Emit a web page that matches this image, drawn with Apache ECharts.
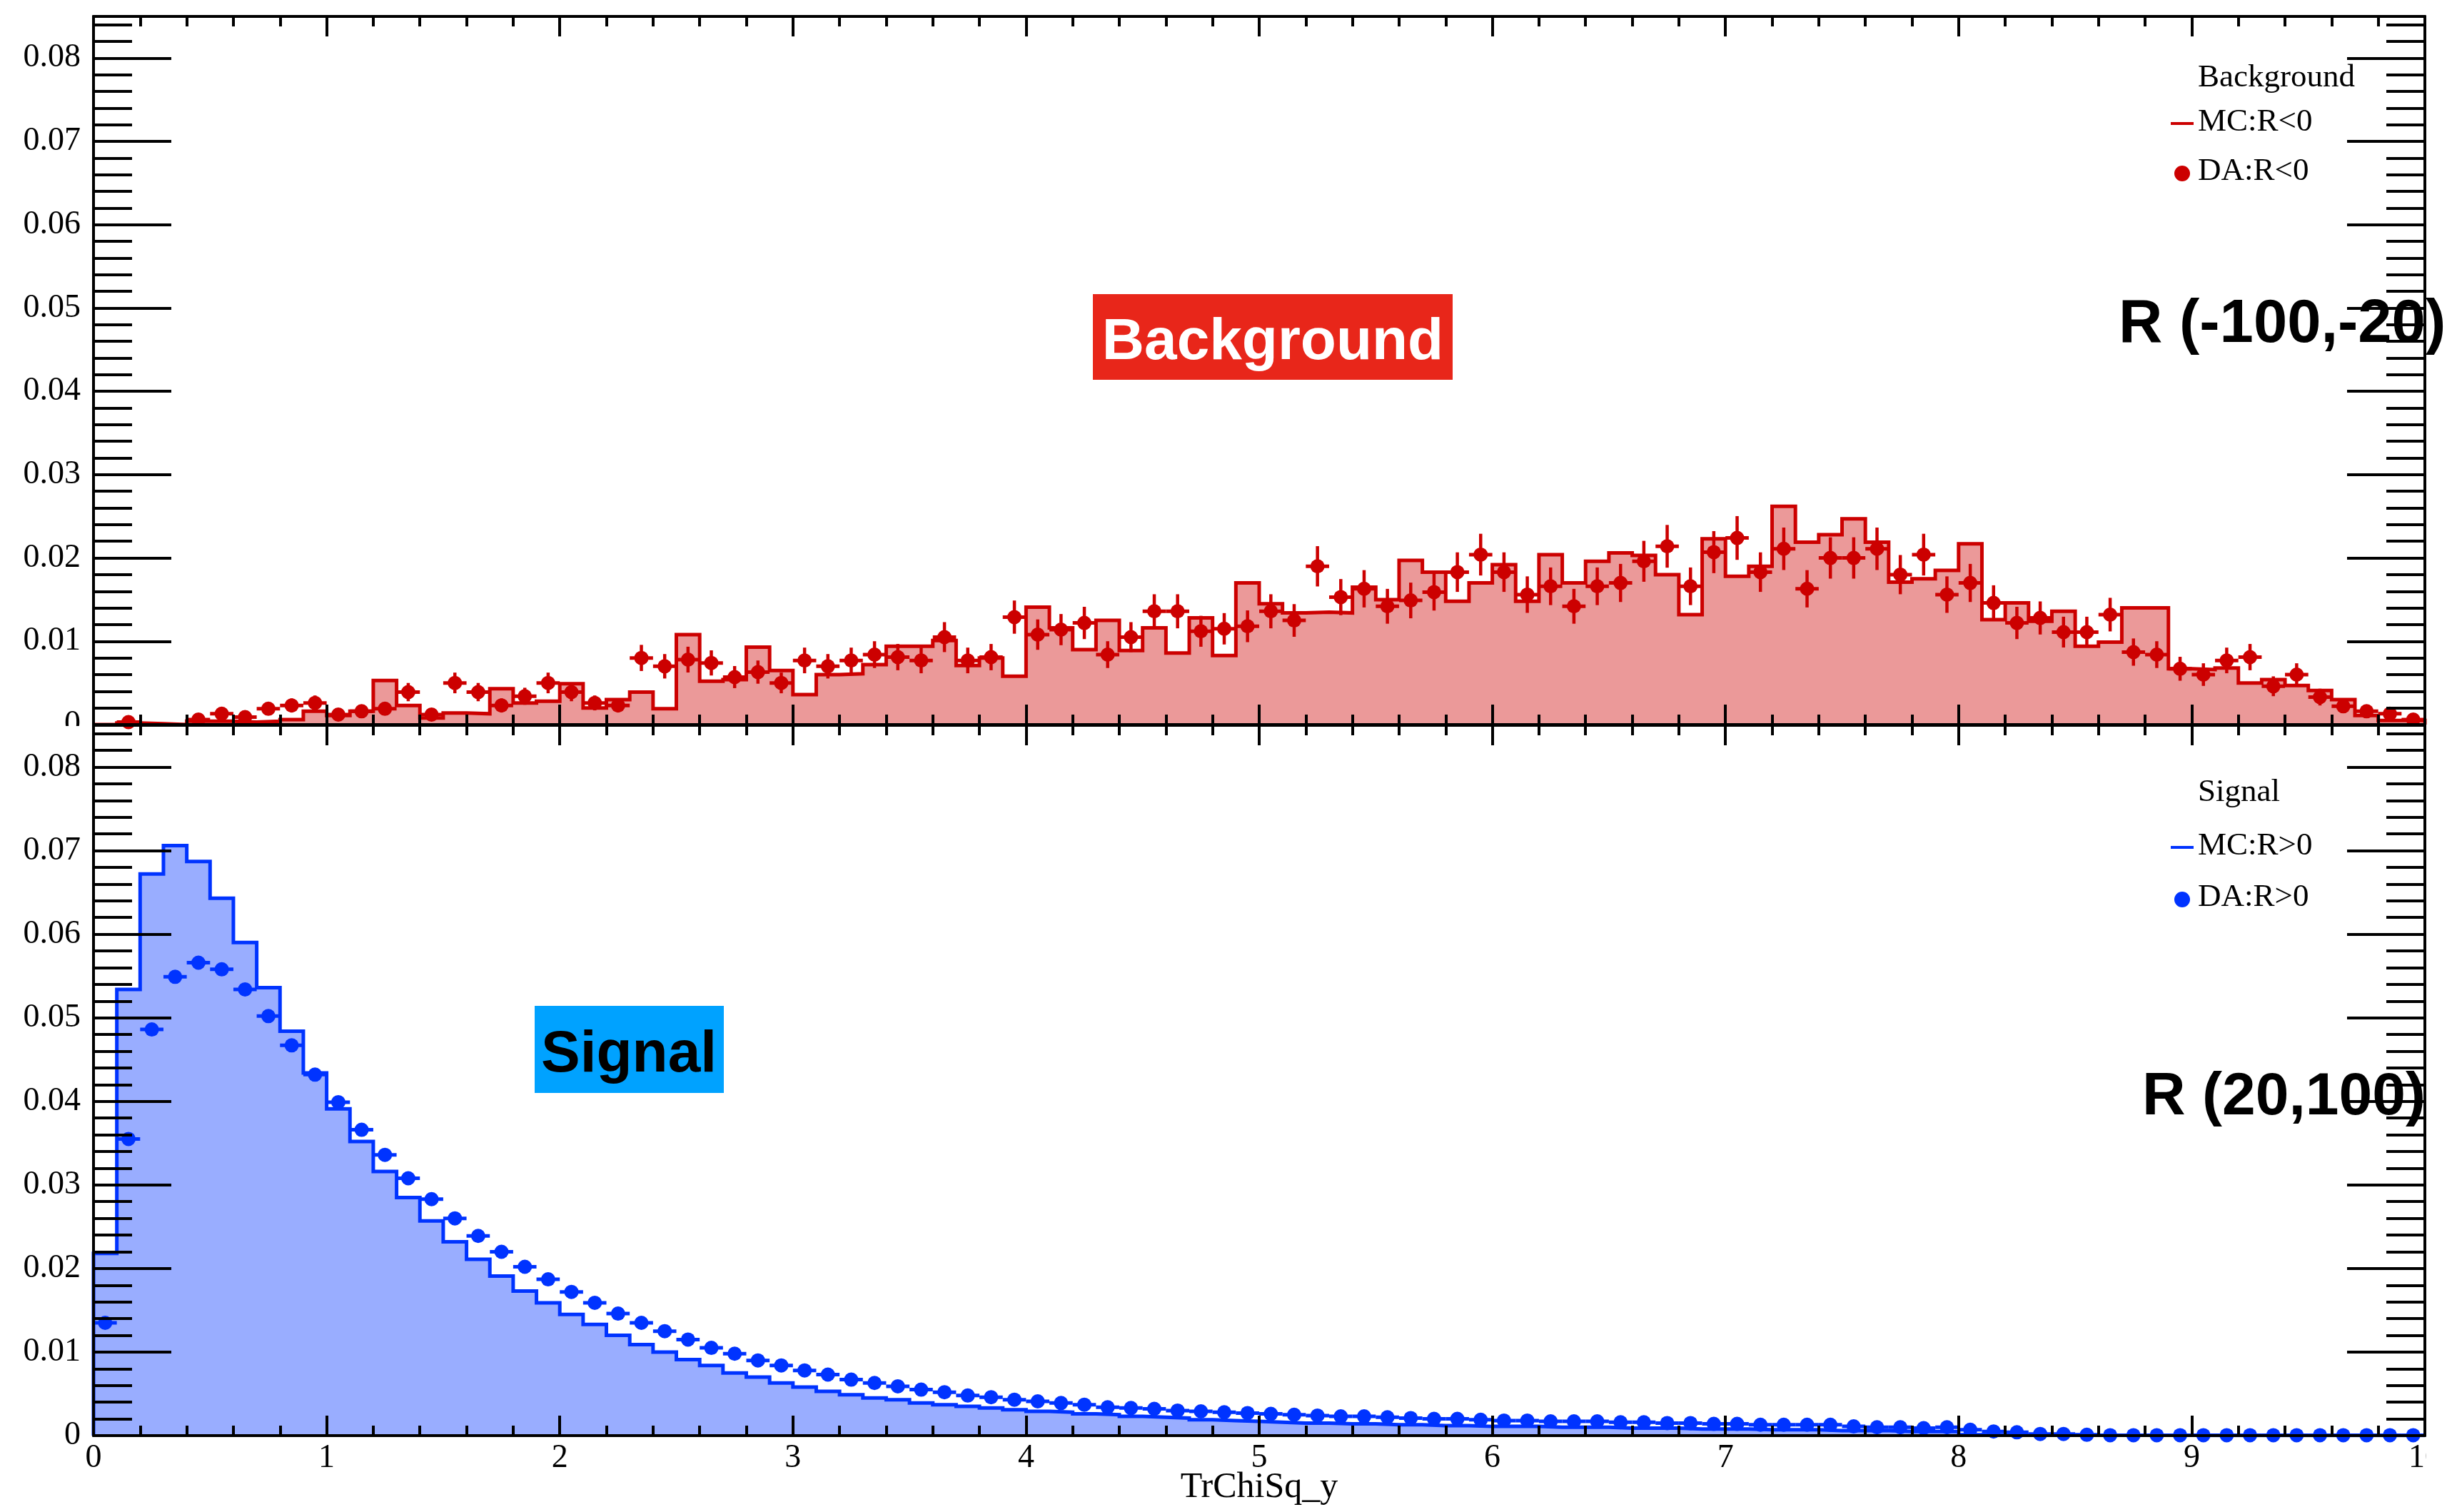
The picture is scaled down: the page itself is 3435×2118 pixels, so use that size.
<!DOCTYPE html>
<html>
<head>
<meta charset="utf-8">
<title>TrChiSq_y</title>
<script src="https://cdn.jsdelivr.net/npm/echarts@6.0.0/dist/echarts.min.js"></script>
<style>
  html, body { margin: 0; padding: 0; background: #ffffff; }
  #chart { width: 3435px; height: 2118px; }
</style>
</head>
<body>
<div id="chart"></div>
<script>
// ---- binning -------------------------------------------------------------
const BIN_WIDTH = 0.1;
const X_MIN = 0;
const X_MAX = 10;
const Y_MAX = 0.085;

// ---- background region, R in (-100,-20): normalised MC and data --------------
const bkgMC = [
  0, 0.0002, 0.0001, 0, 0.0004, 0.0004, 0.0003, 0.0004, 0.0006, 0.0016,
  0.0011, 0.0016, 0.0053, 0.0023, 0.0008, 0.0014, 0.0013, 0.0043, 0.0026, 0.0028,
  0.0049, 0.0020, 0.0030, 0.0039, 0.0019, 0.0108, 0.0052, 0.0054, 0.0093, 0.0065,
  0.0036, 0.0060, 0.0061, 0.0072, 0.0094, 0.0094, 0.0101, 0.0071, 0.0080, 0.0058,
  0.0141, 0.0116, 0.0090, 0.0125, 0.0089, 0.0116, 0.0086, 0.0128, 0.0083, 0.0170,
  0.0145, 0.0134, 0.0135, 0.0134, 0.0165, 0.0150, 0.0197, 0.0183, 0.0148, 0.0170,
  0.0192, 0.0148, 0.0204, 0.0170, 0.0196, 0.0206, 0.0203, 0.0180, 0.0132, 0.0223,
  0.0178, 0.0190, 0.0262, 0.0219, 0.0228, 0.0247, 0.0219, 0.0171, 0.0175, 0.0185,
  0.0217, 0.0126, 0.0146, 0.0124, 0.0136, 0.0094, 0.0099, 0.0140, 0.0140, 0.0067,
  0.0066, 0.0068, 0.0050, 0.0054, 0.0047, 0.0041, 0.0030, 0.0011, 0.0005, 0.0005
];
const bkgData = [
  null, 0.0003, null, null, 0.0006, 0.0013, 0.0009, 0.0019, 0.0023, 0.0026,
  0.0012, 0.0016, 0.0019, 0.0039, 0.0012, 0.0050, 0.0039, 0.0023, 0.0034, 0.0050,
  0.0039, 0.0026, 0.0023, 0.0080, 0.0070, 0.0078, 0.0074, 0.0057, 0.0063, 0.0050,
  0.0077, 0.0070, 0.0077, 0.0084, 0.0081, 0.0077, 0.0105, 0.0077, 0.0081, 0.0129,
  0.0108, 0.0114, 0.0122, 0.0084, 0.0105, 0.0136, 0.0136, 0.0112, 0.0115, 0.0118,
  0.0136, 0.0125, 0.0190, 0.0153, 0.0163, 0.0142, 0.0149, 0.0159, 0.0183, 0.0204,
  0.0183, 0.0156, 0.0166, 0.0142, 0.0166, 0.0170, 0.0196, 0.0214, 0.0166, 0.0207,
  0.0224, 0.0183, 0.0211, 0.0163, 0.0200, 0.0200, 0.0211, 0.0180, 0.0204, 0.0156,
  0.0170, 0.0146, 0.0122, 0.0128, 0.0111, 0.0111, 0.0132, 0.0087, 0.0084, 0.0067,
  0.0060, 0.0077, 0.0081, 0.0046, 0.0060, 0.0033, 0.0022, 0.0016, 0.0013, 0.0006
];

// ---- signal region, R in (20,100): normalised MC and data --------------------
const sigMC = [
  0.0218, 0.0534, 0.0672, 0.0706, 0.0687, 0.0643, 0.0590, 0.0536, 0.0484, 0.0434,
  0.0391, 0.0352, 0.0316, 0.0285, 0.0257, 0.0232, 0.0211, 0.0191, 0.0173, 0.0159,
  0.0145, 0.0133, 0.0120, 0.0109, 0.0100, 0.0091, 0.0084, 0.0075, 0.0070, 0.0063,
  0.0058, 0.0053, 0.0049, 0.0045, 0.0043, 0.0039, 0.0037, 0.0035, 0.0033, 0.0031,
  0.0029, 0.0028, 0.0026, 0.0025, 0.0023, 0.0022, 0.0021, 0.0019, 0.0018, 0.0017,
  0.0016, 0.0015, 0.0015, 0.0014, 0.0014, 0.0013, 0.0013, 0.0012, 0.0012, 0.0011,
  0.0011, 0.0011, 0.0010, 0.0010, 0.0010, 0.0009, 0.0009, 0.0009, 0.0008, 0.0008,
  0.0008, 0.0007, 0.0007, 0.0007, 0.0006, 0.0006, 0.0006, 0.0005, 0.0005, 0.0005,
  0.0001, 0.00005, 0.00005, 0.00005, 0.00005, 0.00005, 0.00005, 0.00005, 0.00005, 0.00005,
  0.00003, 0.00003, 0.00003, 0.00003, 0.00003, 0.00003, 0.00003, 0.00003, 0.00003, 0.00003
];
const sigData = [
  0.0135, 0.0355, 0.0486, 0.0549, 0.0566, 0.0558, 0.0534, 0.0502, 0.0467, 0.0432,
  0.0399, 0.0366, 0.0336, 0.0308, 0.0283, 0.0260, 0.0239, 0.0220, 0.0202, 0.0187,
  0.0172, 0.0159, 0.0146, 0.0135, 0.0125, 0.0115, 0.0105, 0.0098, 0.0090, 0.0084,
  0.0078, 0.0073, 0.0067, 0.0063, 0.0059, 0.0055, 0.0052, 0.0048, 0.0046, 0.0043,
  0.0041, 0.0039, 0.0037, 0.0034, 0.0033, 0.0032, 0.0030, 0.0029, 0.0028, 0.0027,
  0.0026, 0.0025, 0.0024, 0.0023, 0.0023, 0.0022, 0.0021, 0.0020, 0.0020, 0.0019,
  0.0018, 0.0018, 0.0017, 0.0017, 0.0017, 0.0016, 0.0016, 0.0015, 0.0015, 0.0014,
  0.0014, 0.0013, 0.0013, 0.0013, 0.0013, 0.0011, 0.0010, 0.0010, 0.0009, 0.0010,
  0.0007, 0.0005, 0.0004, 0.0002, 0.0002, 0.0001, 0.00005, 0.00005, 0.00005, 0.00005,
  0.00005, 0.00005, 0.00005, 0.00005, 0.00005, 0.00005, 0.00005, 0.00005, 0.00005, 0.00005
];

// event counts behind the normalised data (Poisson error bars)
const BKG_EVENTS = 3250;
const SIG_EVENTS = 200000;

// ---- text -------------------------------------------------------------------
const X_TITLE = 'TrChiSq_y';
const BKG_TAG = 'Background';
const SIG_TAG = 'Signal';
const BKG_RANGE = 'R (-100,-20)';
const SIG_RANGE = 'R (20,100)';
const BKG_LEGEND = ['Background', 'MC:R<0', 'DA:R<0'];
const SIG_LEGEND = ['Signal', 'MC:R>0', 'DA:R>0'];

// ---- style ------------------------------------------------------------------
const RED = '#cc0000';
const RED_FILL = 'rgba(204,0,0,0.4)';
const BLUE = '#0033ff';
const BLUE_FILL = 'rgba(0,51,255,0.4)';
const SERIF = '"Liberation Serif", "Times New Roman", serif';
const SANS = '"Liberation Sans", Arial, Helvetica, sans-serif';

// outline of a filled histogram: points at the low edge of each bin, closed at both ends
function histogramOutline(values) {
  const pts = [[X_MIN, 0]];
  values.forEach((v, i) => pts.push([X_MIN + i * BIN_WIDTH, v]));
  pts.push([X_MAX, values[values.length - 1]]);
  pts.push([X_MAX, 0]);
  return pts;
}

// data points at bin centres with their statistical uncertainty
function dataPoints(values, nEvents) {
  const pts = [];
  values.forEach((v, i) => {
    if (v === null) return;
    pts.push([X_MIN + (i + 0.5) * BIN_WIDTH, v, Math.sqrt(v / nEvents)]);
  });
  return pts;
}

function errorBarRenderer(color, radius) {
  return function (params, api) {
    const x = api.value(0), y = api.value(1), e = api.value(2);
    const c = api.coord([x, y]);
    const lo = api.coord([x, y - e]);
    const hi = api.coord([x, y + e]);
    const l = api.coord([x - BIN_WIDTH / 2, y]);
    const r = api.coord([x + BIN_WIDTH / 2, y]);
    return {
      type: 'group',
      children: [
        { type: 'line', shape: { x1: c[0], y1: lo[1], x2: c[0], y2: hi[1] },
          style: { stroke: color, lineWidth: 4.5 } },
        { type: 'line', shape: { x1: l[0], y1: c[1], x2: r[0], y2: c[1] },
          style: { stroke: color, lineWidth: 5 } },
        { type: 'circle', shape: { cx: c[0], cy: c[1], r: radius },
          style: { fill: color } }
      ]
    };
  };
}

const GRIDS = [
  { left: 131, top: 23, width: 3266, height: 992 },
  { left: 131, top: 1016, width: 3266, height: 995 }
];

const AXIS_LINE = { show: true, onZero: false, lineStyle: { color: '#000', width: 4 } };

function xAxesFor(gridIndex, withLabels) {
  const common = {
    type: 'value', gridIndex, min: X_MIN, max: X_MAX, interval: 1, z: 5,
    axisLine: AXIS_LINE,
    axisTick: { show: true, inside: true, length: 28, lineStyle: { color: '#000', width: 4 } },
    minorTick: { show: true, splitNumber: 5, length: 14, lineStyle: { color: '#000', width: 4 } },
    splitLine: { show: false }, minorSplitLine: { show: false }
  };
  const bottom = Object.assign({}, common, {
    position: 'bottom',
    axisLabel: { show: withLabels, fontFamily: SERIF, fontSize: 46, color: '#000', margin: 9 }
  });
  if (withLabels) {
    Object.assign(bottom, {
      name: X_TITLE, nameLocation: 'middle', nameGap: 48, nameMoveOverlap: false,
      nameTextStyle: { fontFamily: SERIF, fontSize: 50, color: '#000' }
    });
  }
  const top = Object.assign({}, common, { position: 'top', axisLabel: { show: false } });
  return [bottom, top];
}

function yAxesFor(gridIndex) {
  const base = {
    type: 'value', gridIndex, min: 0, max: Y_MAX, z: 5,
    axisLine: AXIS_LINE, splitLine: { show: false }
  };
  const major = { show: true, inside: true, length: 109, lineStyle: { color: '#000', width: 4 } };
  const minor = { show: true, inside: true, length: 54, lineStyle: { color: '#000', width: 4 } };
  return [
    Object.assign({}, base, {
      position: 'left', interval: 0.01, axisTick: major,
      axisLabel: {
        show: true, showMaxLabel: false, fontFamily: SERIF, fontSize: 46, color: '#000', margin: 18,
        formatter: v => (v === 0 ? '0' : v.toFixed(2))
      }
    }),
    Object.assign({}, base, { position: 'left', interval: 0.002, axisTick: minor, axisLabel: { show: false } }),
    Object.assign({}, base, { position: 'right', interval: 0.01, axisTick: major, axisLabel: { show: false } }),
    Object.assign({}, base, { position: 'right', interval: 0.002, axisTick: minor, axisLabel: { show: false } })
  ];
}

// legend rows: header, MC line sample, data marker sample
function legendBlock(lines, color, rows) {
  const txt = (s, y) => ({
    type: 'text', x: 3079, y, z: 20,
    style: { text: s, fontFamily: SERIF, fontSize: 45, fill: '#000', align: 'left', verticalAlign: 'middle' }
  });
  return [
    txt(lines[0], rows[0]),
    { type: 'line', z: 20, shape: { x1: 3041, y1: rows[1] + 2, x2: 3073, y2: rows[1] + 2 },
      style: { stroke: color, lineWidth: 4 } },
    txt(lines[1], rows[1]),
    { type: 'circle', z: 20, shape: { cx: 3057, cy: rows[2] + 3, r: 11 }, style: { fill: color } },
    txt(lines[2], rows[2])
  ];
}

const chart = echarts.init(document.getElementById('chart'), null, { renderer: 'canvas' });

chart.setOption({
  animation: false,
  backgroundColor: '#ffffff',
  grid: GRIDS.map(g => Object.assign({ outerBoundsMode: 'none', containLabel: false }, g)),
  xAxis: [...xAxesFor(0, false), ...xAxesFor(1, true)],
  yAxis: [...yAxesFor(0), ...yAxesFor(1)],
  series: [
    {
      name: 'MC:R<0', type: 'line', xAxisIndex: 0, yAxisIndex: 0, z: 2,
      data: histogramOutline(bkgMC), step: 'end', symbol: 'none',
      lineStyle: { color: RED, width: 5, join: 'miter' },
      areaStyle: { color: RED_FILL, opacity: 1, origin: 'start' }
    },
    {
      name: 'DA:R<0', type: 'custom', xAxisIndex: 0, yAxisIndex: 0, z: 3,
      data: dataPoints(bkgData, BKG_EVENTS), encode: { x: 0, y: 1 },
      renderItem: errorBarRenderer(RED, 10)
    },
    {
      name: 'MC:R>0', type: 'line', xAxisIndex: 2, yAxisIndex: 4, z: 2,
      data: histogramOutline(sigMC), step: 'end', symbol: 'none',
      lineStyle: { color: BLUE, width: 5, join: 'miter' },
      areaStyle: { color: BLUE_FILL, opacity: 1, origin: 'start' }
    },
    {
      name: 'DA:R>0', type: 'custom', xAxisIndex: 2, yAxisIndex: 4, z: 3,
      data: dataPoints(sigData, SIG_EVENTS), encode: { x: 0, y: 1 },
      renderItem: errorBarRenderer(BLUE, 10)
    }
  ],
  graphic: [
    // lower pad covers the lower half of the upper pad's zero label
    { type: 'rect', z: 30, shape: { x: 0, y: 1017, width: 127, height: 30 }, style: { fill: '#ffffff' } },
    // right edge of the lower pad trims the last x label
    { type: 'rect', z: 30, shape: { x: 3399, y: 2020, width: 36, height: 60 }, style: { fill: '#ffffff' } },

    { type: 'rect', z: 1, shape: { x: 1531, y: 412, width: 504, height: 120 }, style: { fill: '#e8261a' } },
    { type: 'text', x: 1783, y: 480, z: 1,
      style: { text: BKG_TAG, fontFamily: SANS, fontWeight: 'bold', fontSize: 82, fill: '#ffffff', align: 'center', verticalAlign: 'middle' } },
    { type: 'rect', z: 1, shape: { x: 749, y: 1409, width: 265, height: 122 }, style: { fill: '#00a2ff' } },
    { type: 'text', x: 881, y: 1478, z: 1,
      style: { text: SIG_TAG, fontFamily: SANS, fontWeight: 'bold', fontSize: 82, fill: '#000000', align: 'center', verticalAlign: 'middle' } },

    { type: 'text', x: 2968, y: 456, z: 1,
      style: { text: BKG_RANGE, fontFamily: SANS, fontWeight: 'bold', fontSize: 85, fill: '#000000', align: 'left', verticalAlign: 'middle' } },
    { type: 'text', x: 3001, y: 1538, z: 1,
      style: { text: SIG_RANGE, fontFamily: SANS, fontWeight: 'bold', fontSize: 84, fill: '#000000', align: 'left', verticalAlign: 'middle' } },

    ...legendBlock(BKG_LEGEND, RED, [109, 171, 240]),
    ...legendBlock(SIG_LEGEND, BLUE, [1110, 1185, 1257])
  ]
});
</script>
</body>
</html>
